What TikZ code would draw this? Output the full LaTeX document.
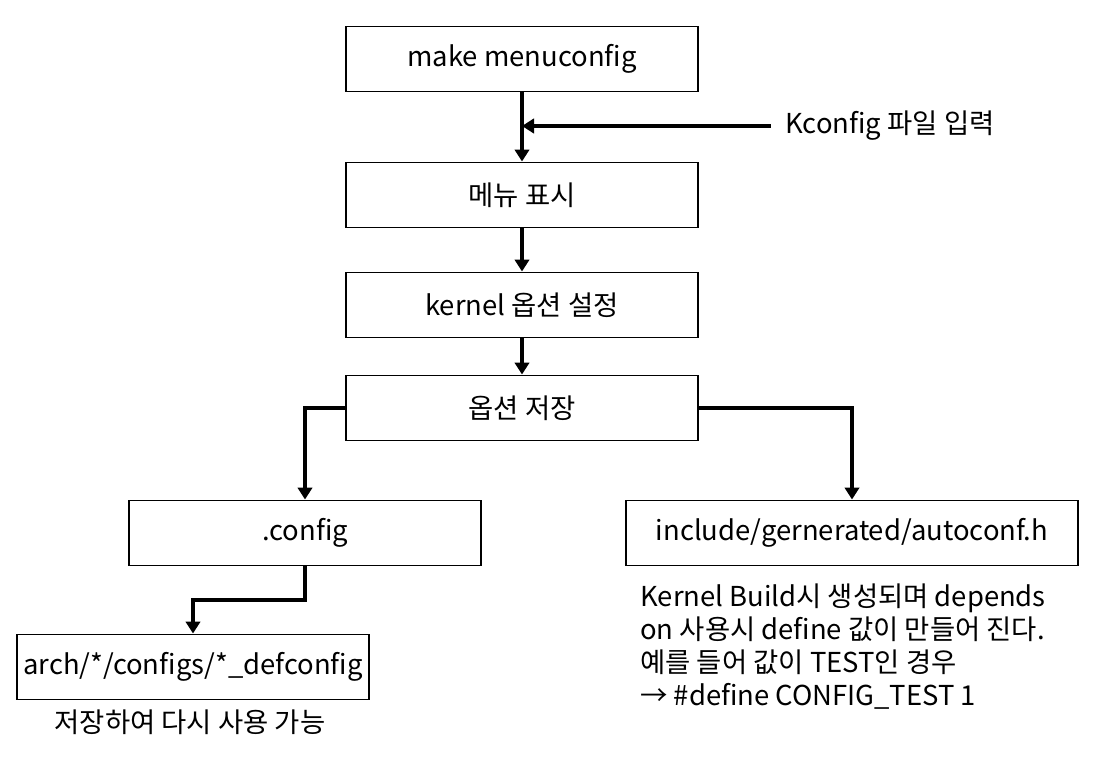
\documentclass[tikz,border=0pt]{standalone}
\usepackage{fontspec}
\setmainfont{Noto Sans CJK KR}
\usetikzlibrary{arrows.meta,positioning}

\begin{document}
\begin{tikzpicture}[
    x=0.025cm, y=-0.025cm,
    font=\fontsize{19.5}{23.4}\selectfont,
    block/.style={rectangle, draw, line width=1.4pt, minimum width=8.8cm, minimum height=1.625cm, inner sep=0pt, text centered},
    line/.style={draw, line width=2.8pt, -{Triangle[length=0.3cm, width=0.36cm]}},
    plain/.style={inner sep=0pt}
]
    \useasboundingbox (0,0) rectangle (1097,761);

    % Main column
    \node [block] (menuconfig) at (522,59) {make menuconfig};
    \node [block] (show) at (522,195) {메뉴 표시};
    \node [block] (option) at (522,305) {kernel 옵션 설정};
    \node [block] (save) at (522,408) {옵션 저장};

    % Outputs
    \node [block] (config) at (305,533) {.config};
    \node [block, minimum width=11.275cm] (autoconf) at (852,533) {include/gernerated/autoconf.h};
    \node [block] (defconfig) at (193,667) {arch/*/configs/*\_defconfig};

    % Labels
    \node [plain, anchor=west] (kconfig) at (785,126) {Kconfig 파일 입력};
    \node [plain] (reuse) at (190,722) {저장하여 다시 사용 가능};
    \node [plain, anchor=north west, align=left] (note) at (640,584) {Kernel Build시 생성되며 depends\\on 사용시 define 값이 만들어 진다.\\예를 들어 값이 TEST인 경우\\→ \#define CONFIG\_TEST 1};

    \coordinate (join) at (menuconfig.south |- kconfig);
    \coordinate (bend) at (config.south |- 0,600);

    % Connections
    \path [line] (menuconfig) -- (show);
    \path [line, shorten <=10pt] (kconfig.west) -- (join);
    \path [line] (show) -- (option);
    \path [line] (option) -- (save);
    \path [line] (save.west) -| (config.north);
    \path [line] (save.east) -| (autoconf.north);
    \path [line] (config.south) -- (bend) -| (defconfig.north);

\end{tikzpicture}
\end{document}
